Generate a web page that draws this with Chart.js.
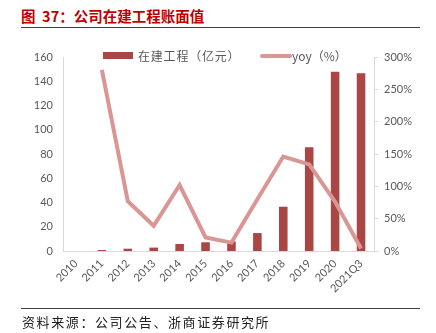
<!DOCTYPE html>
<html>
<head>
<meta charset="utf-8">
<script src="https://cdn.jsdelivr.net/npm/chart.js@4"></script>
<style>
  body { margin: 0; background: #fff; }
  #wrap { position: relative; width: 436px; height: 333px; overflow: hidden; }
  #title { position: absolute; left: 21px; top: 5px; font: bold 14.5px "Noto Sans CJK SC"; color: #C00000; white-space: pre; }
  .rule { position: absolute; left: 21px; width: 399px; height: 0; border-top: 1px solid #404040; }
  #source { position: absolute; left: 22px; top: 312px; font: 13px "Noto Sans CJK SC"; color: #222; letter-spacing: 1.6px; white-space: nowrap; }
  .leg { position: absolute; top: 47px; font: 12px "Noto Sans CJK SC"; color: #595959; white-space: nowrap; }
  .leg i { position: absolute; display: block; }
  canvas { position: absolute; left: 0; top: 0; }
</style>
</head>
<body>
<div id="wrap">
  <div id="title">图  37：公司在建工程账面值</div>
  <div class="rule" style="top:27px"></div>
  <canvas id="chart" width="436" height="333"></canvas>
  <div class="leg" style="left:103px"><i style="left:0;top:5px;width:30px;height:7px;background:#AA4643"></i><span style="margin-left:35px;letter-spacing:0.8px">在建工程（亿元）</span></div>
  <div class="leg" style="left:260px"><i style="left:0;top:7px;width:32px;height:4px;border-radius:2px;background:#D99694"></i><span style="margin-left:32px">yoy（%）</span></div>
  <div class="rule" style="top:308px"></div>
  <div id="source">资料来源：公司公告、浙商证券研究所</div>
</div>
<script>
// Data
const years = ['2010', '2011', '2012', '2013', '2014', '2015', '2016', '2017', '2018', '2019', '2020', '2021Q3'];
const cip = [0, 0.8, 1.9, 2.8, 5.8, 7.2, 7.8, 14.8, 36.5, 85.5, 147.9, 146.5]; // 在建工程（亿元）
const yoy = [null, 280, 77, 39, 102, 21, 13, 80, 146, 134, 76, 4]; // yoy（%）

const tickFont = { family: 'Lato', size: 11 };
const gray = '#595959';
const axisLine = '#D9D9D9';

const ctx = document.getElementById('chart').getContext('2d');
new Chart(ctx, {
  data: {
    labels: years,
    datasets: [
      {
        type: 'line',
        label: 'yoy（%）',
        data: yoy,
        yAxisID: 'y1',
        borderColor: '#D99694',
        borderWidth: 4,
        pointRadius: 0,
        tension: 0,
        order: 0,
      },
      {
        type: 'bar',
        label: '在建工程（亿元）',
        data: cip,
        yAxisID: 'y',
        backgroundColor: '#AA4643',
        categoryPercentage: 1,
        barPercentage: 0.33,
        order: 1,
      },
    ],
  },
  options: {
    responsive: false,
    animation: false,
    layout: { padding: { left: 0, right: 0, top: 57, bottom: 37 } },
    plugins: { legend: { display: false }, tooltip: { enabled: false } },
    scales: {
      x: {
        grid: { display: false, drawTicks: false },
        border: { color: axisLine },
        ticks: { color: gray, font: tickFont, maxRotation: 45, minRotation: 45, padding: 6 },
        afterFit: (s) => { s.height = 45; },
      },
      y: {
        position: 'left',
        min: 0,
        max: 160,
        grid: { display: false, drawTicks: false },
        border: { color: axisLine },
        ticks: { stepSize: 20, color: gray, font: tickFont, padding: 10 },
        afterFit: (s) => { s.width = 63; },
      },
      y1: {
        position: 'right',
        min: 0,
        max: 300,
        grid: { drawOnChartArea: false, color: axisLine, tickLength: 4 },
        border: { color: axisLine },
        ticks: { stepSize: 50, color: gray, font: tickFont, padding: 6, callback: (v) => v + '%' },
        afterFit: (s) => { s.width = 62; },
      },
    },
  },
});
</script>
</body>
</html>
